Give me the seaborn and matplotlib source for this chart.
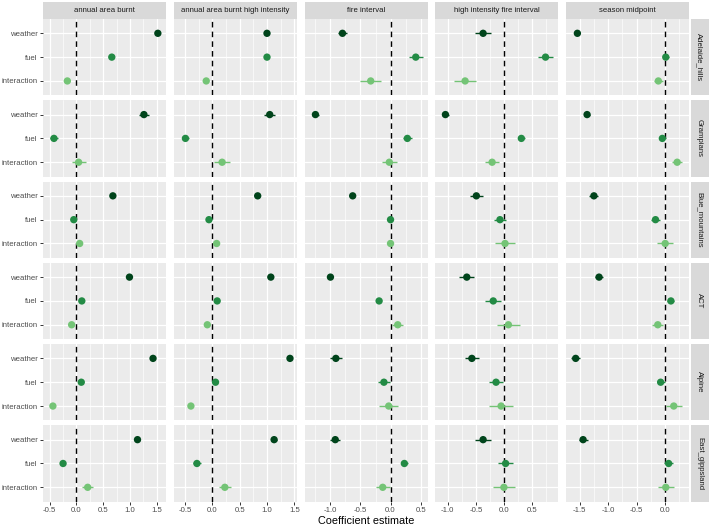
import numpy as np
import pandas as pd
import matplotlib
matplotlib.use("Agg")
import matplotlib.pyplot as plt
import seaborn as sns
from matplotlib.patches import Rectangle
from matplotlib.ticker import MultipleLocator

# -----------------------------
# Data
# -----------------------------
regions = ["Adelaide_hills", "Grampians", "Blue_mountains", "ACT", "Alpine", "East_gippsland"]
responses = ["annual area burnt", "annual area burnt high intensity", "fire interval",
             "high intensity fire interval", "season midpoint"]
terms = ["weather", "fuel", "interaction"]

# estimates per region: [weather, fuel, interaction]
area_burnt = [[1.52, 0.66, -0.17], [1.26, -0.42, 0.04], [0.68, -0.05, 0.06],
              [0.99, 0.10, -0.09], [1.43, 0.09, -0.44], [1.14, -0.25, 0.21]]
area_burnt_hi = [[1.00, 1.00, -0.11], [1.05, -0.49, 0.18], [0.83, -0.06, 0.08],
                 [1.07, 0.09, -0.09], [1.42, 0.06, -0.39], [1.13, -0.28, 0.23]]
fire_int = [[-0.80, 0.42, -0.33], [-1.25, 0.28, -0.02], [-0.63, 0.00, 0.00],
            [-1.00, -0.19, 0.12], [-0.91, -0.11, -0.03], [-0.92, 0.23, -0.13]]
hi_fire_int = [[-0.37, 0.74, -0.69], [-1.04, 0.31, -0.21], [-0.49, -0.07, 0.02],
               [-0.66, -0.19, 0.08], [-0.57, -0.14, -0.05], [-0.37, 0.03, 0.00]]
season_mid = [[-1.54, 0.01, -0.12], [-1.37, -0.05, 0.21], [-1.25, -0.17, 0.00],
              [-1.16, 0.10, -0.13], [-1.57, -0.08, 0.15], [-1.44, 0.06, 0.01]]

# half-width of the intervals
area_burnt_err = [[0.03, 0.03, 0.05], [0.10, 0.07, 0.13], [0.03, 0.03, 0.03],
                  [0.03, 0.03, 0.03], [0.03, 0.03, 0.03], [0.04, 0.04, 0.10]]
area_burnt_hi_err = [[0.03, 0.03, 0.04], [0.10, 0.07, 0.15], [0.03, 0.03, 0.03],
                     [0.03, 0.03, 0.03], [0.03, 0.03, 0.03], [0.05, 0.07, 0.11]]
fire_int_err = [[0.08, 0.12, 0.17], [0.06, 0.07, 0.13], [0.03, 0.03, 0.03],
                [0.03, 0.03, 0.09], [0.10, 0.10, 0.16], [0.08, 0.06, 0.12]]
hi_fire_int_err = [[0.14, 0.13, 0.20], [0.06, 0.06, 0.12], [0.12, 0.10, 0.18],
                   [0.13, 0.14, 0.20], [0.13, 0.13, 0.22], [0.14, 0.14, 0.20]]
season_mid_err = [[0.05, 0.05, 0.08], [0.06, 0.06, 0.09], [0.08, 0.08, 0.14],
                  [0.07, 0.06, 0.10], [0.08, 0.07, 0.14], [0.08, 0.08, 0.14]]

est_by_resp = [area_burnt, area_burnt_hi, fire_int, hi_fire_int, season_mid]
err_by_resp = [area_burnt_err, area_burnt_hi_err, fire_int_err, hi_fire_int_err, season_mid_err]

rows = []
for c, resp in enumerate(responses):
    for r, reg in enumerate(regions):
        for t, term in enumerate(terms):
            rows.append({"region": reg, "response": resp, "term": term,
                         "estimate": est_by_resp[c][r][t], "err": err_by_resp[c][r][t]})
df = pd.DataFrame(rows)

palette = {"weather": "#00441b", "fuel": "#238b45", "interaction": "#74c476"}
xlims = [(-0.62, 1.68), (-0.70, 1.55), (-1.43, 0.62), (-1.22, 0.97), (-1.74, 0.42)]

# -----------------------------
# Plot
# -----------------------------
sns.set_theme(style="darkgrid", rc={"axes.facecolor": "#EBEBEB", "grid.color": "white",
                                    "axes.edgecolor": "#EBEBEB"})
plt.rcParams["font.family"] = ["Liberation Sans", "DejaVu Sans"]

g = sns.FacetGrid(df, row="region", col="response", row_order=regions, col_order=responses,
                  sharex="col", sharey=True, despine=False, height=1, aspect=1.5)


def draw(data, **kws):
    ax = plt.gca()
    ypos = data["term"].map({t: i for i, t in enumerate(terms)})
    ax.axvline(0, color="black", ls=(0, (4, 3)), lw=1.0, zorder=2)
    for term in terms:
        m = data["term"] == term
        ax.errorbar(data.loc[m, "estimate"], ypos[m], xerr=data.loc[m, "err"], fmt="none",
                    ecolor=palette[term], elinewidth=1.0, capsize=0, zorder=3)
    sns.scatterplot(x=data["estimate"], y=ypos, hue=data["term"], palette=palette,
                    hue_order=terms, s=28, linewidth=0, legend=False, ax=ax, zorder=4)


g.map_dataframe(draw)
g.set_titles("")
g.set_axis_labels("", "")
g.figure.set_size_inches(7.09, 5.28)
g.figure.subplots_adjust(left=0.061, right=0.972, top=0.964, bottom=0.050,
                         wspace=0.061, hspace=0.066)

for r, reg in enumerate(regions):
    for c, resp in enumerate(responses):
        ax = g.axes[r, c]
        ax.set_xlim(*xlims[c])
        ax.set_ylim(2.6, -0.6)
        ax.set_yticks(range(len(terms)))
        ax.set_yticklabels(terms)
        ax.xaxis.set_major_locator(MultipleLocator(0.5))
        ax.xaxis.set_minor_locator(MultipleLocator(0.25))
        ax.grid(which="major", color="white", lw=0.9)
        ax.grid(which="minor", axis="x", color="white", lw=0.45)
        ax.tick_params(axis="both", which="major", length=2.5, width=0.7, color="#333333",
                       labelsize=5.6, labelcolor="#4D4D4D", pad=1.5,
                       bottom=(r == len(regions) - 1), left=(c == 0))
        ax.tick_params(which="minor", length=0)
        ax.xaxis.set_major_formatter(matplotlib.ticker.FormatStrFormatter("%.1f"))
        for sp in ax.spines.values():
            sp.set_visible(False)
        if r == 0:
            ax.add_patch(Rectangle((0, 1.0), 1, 0.225, transform=ax.transAxes,
                                   facecolor="#D9D9D9", edgecolor="none", clip_on=False))
            ax.text(0.5, 1.112, resp, transform=ax.transAxes, ha="center", va="center",
                    fontsize=5.6, color="#1A1A1A")
        if c == len(responses) - 1:
            ax.add_patch(Rectangle((1.013, 0), 0.145, 1, transform=ax.transAxes,
                                   facecolor="#D9D9D9", edgecolor="none", clip_on=False))
            ax.text(1.085, 0.5, reg, transform=ax.transAxes, ha="center", va="center",
                    rotation=-90, fontsize=5.6, color="#1A1A1A")

g.figure.text(0.517, 0.013, "Coefficient estimate", ha="center", va="center",
              fontsize=7.8, color="black")

g.figure.savefig("out.png", dpi=100)
